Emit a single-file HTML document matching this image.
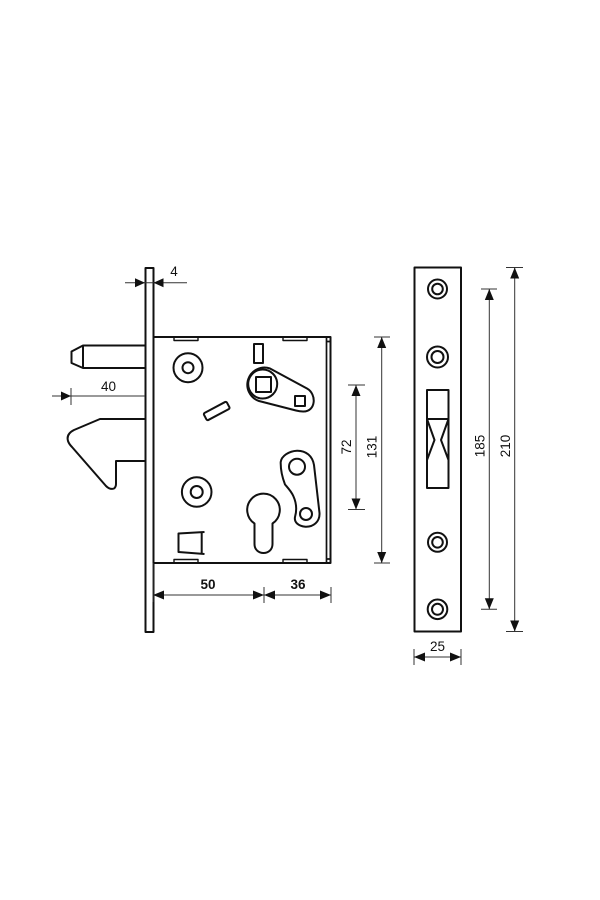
<!DOCTYPE html>
<html><head><meta charset="utf-8"><style>html,body{margin:0;padding:0;background:#fff}svg{display:block}text{font-family:"Liberation Sans",Arial,sans-serif;font-size:13.5px;fill:#111;text-anchor:middle}</style></head>
<body><svg width="600" height="900" viewBox="0 0 600 900" xmlns="http://www.w3.org/2000/svg">
<rect width="600" height="900" fill="#fff"/>
<g fill="none" stroke="#111" stroke-width="2" stroke-linejoin="round">
<!-- faceplate -->
<rect x="145.500" y="268" width="8" height="364"/>
<!-- case -->
<path d="M153.500 337H330.500V563H153.500"/>
<path d="M326.500 337V563M326.500 341.500H330.500M326.500 559H330.500" stroke-width="1.700"/>
<path d="M174 337V340.500H198V337M283 337V340.500H307V337M174 563V559.500H198V563M283 563V559.500H307V563" stroke-width="1.400"/>
<!-- bolt -->
<path d="M145 345.500H83L71.500 351.500V363L83 368H145M83 345.500V368"/>
<!-- hook -->
<path d="M145 419H100L74 430Q66 434 68 441Q69 444 72 447L106 486Q110 490 114 488.500Q116 487 116 484V461H145"/>
<!-- circles -->
<circle cx="188" cy="367.700" r="14.500"/><circle cx="188" cy="367.700" r="5.500"/>
<circle cx="196.700" cy="492" r="14.800"/><circle cx="196.700" cy="492" r="6"/>
<!-- small rect -->
<rect x="254" y="344" width="9" height="19"/>
<!-- slot -->
<rect x="203.700" y="407" width="26" height="8" rx="1.500" transform="rotate(-28 216.700 411)"/>
<!-- lever 1 -->
<path d="M270 368.500L307 388.500C317 394 316 412 303 411.500Q300 411.500 296 410.500L259 401A17 17 0 1 1 270 368.500Z"/>
<circle cx="262.700" cy="384" r="14.500"/>
<rect x="256" y="377" width="15" height="15"/>
<rect x="295" y="396" width="10" height="10"/>
<!-- lever 2 -->
<path d="M297 450.700C306 450.500 312.500 456 314 465L319.500 513C320 522 313 527 305.500 526.700C298 526 294 522 295 517C297 510 296.500 503 293.300 496C291 491 288 488 285 484.500C282.500 478 280.500 470 280.700 462C281.500 456 289 451 297 450.700Z"/>
<circle cx="297" cy="466.700" r="8"/>
<circle cx="306" cy="514" r="6"/>
<!-- keyhole -->
<path d="M254.500 523.500A16.300 16.300 0 1 1 272.500 523.500V544C272.500 550 268 553 263.500 553C259 553 254.500 550 254.500 544Z"/>
<!-- small box -->
<path d="M204.500 532L178.500 533.500V552L204.500 554M201.700 532V554"/>
<!-- plate -->
<rect x="414.500" y="267.500" width="46.500" height="364"/>
<circle cx="437.500" cy="289" r="9.500"/><circle cx="437.500" cy="289" r="5.300"/>
<circle cx="437.500" cy="357" r="10.500"/><circle cx="437.500" cy="357" r="6"/>
<circle cx="437.500" cy="542.300" r="9.500"/><circle cx="437.500" cy="542.300" r="5.300"/>
<circle cx="437.500" cy="609.300" r="9.800"/><circle cx="437.500" cy="609.300" r="5.500"/>
<rect x="427" y="390" width="21.500" height="98"/>
<path d="M427 419H448.500M427 419L434.500 440L427 460M448.500 419L441 440L448.500 460"/>
</g>
<!-- dimension lines -->
<g fill="none" stroke="#333" stroke-width="1">
<path d="M125 282.700H187M52 396H145M71 388V405"/>
<path d="M153 595H264M264 595H331M264 587V603M331 587V603M153 563V602"/>
<path d="M356 385V509.500M348 385H365M348 509.500H365"/>
<path d="M381.700 337V563M374 337H390M374 563H390"/>
<path d="M489.300 289V609.300M481 289H497M481 609.300H497"/>
<path d="M514.700 267.500V631.500M506 267.500H523M506 631.500H523"/>
<path d="M414 657H461M414 649V665M461 649V665"/>
</g>
<!-- arrowheads -->
<g fill="#111">
<path d="M145 282.700L135 278.200V287.200ZM153.500 282.700L163.500 278.200V287.200Z"/>
<path d="M71 396L61 391.500V400.500Z"/>
<path d="M153 595L164 590.500V599.500ZM264 595L253 590.500V599.500ZM264 595L275 590.500V599.500ZM331 595L320 590.500V599.500Z"/>
<path d="M356 385L351.500 396H360.500ZM356 509.500L351.500 498.500H360.500Z"/>
<path d="M381.700 337L377.200 348H386.200ZM381.700 563L377.200 552H386.200Z"/>
<path d="M489.300 289L484.800 300H493.800ZM489.300 609.300L484.800 598.300H493.800Z"/>
<path d="M514.700 267.500L510.200 278.500H519.200ZM514.700 631.500L510.200 620.500H519.200Z"/>
<path d="M414 657L425 652.500V661.500ZM461 657L450 652.500V661.500Z"/>
</g>
<!-- labels -->
<text x="174" y="276">4</text>
<text x="108.500" y="391">40</text>
<text x="208" y="589" style="font-weight:bold">50</text>
<text x="298" y="589" style="font-weight:bold">36</text>
<text x="437.500" y="651">25</text>
<text transform="translate(351 447) rotate(-90)">72</text>
<text transform="translate(376.500 447) rotate(-90)">131</text>
<text transform="translate(484.500 446) rotate(-90)">185</text>
<text transform="translate(510 446) rotate(-90)">210</text>
</svg></body></html>
